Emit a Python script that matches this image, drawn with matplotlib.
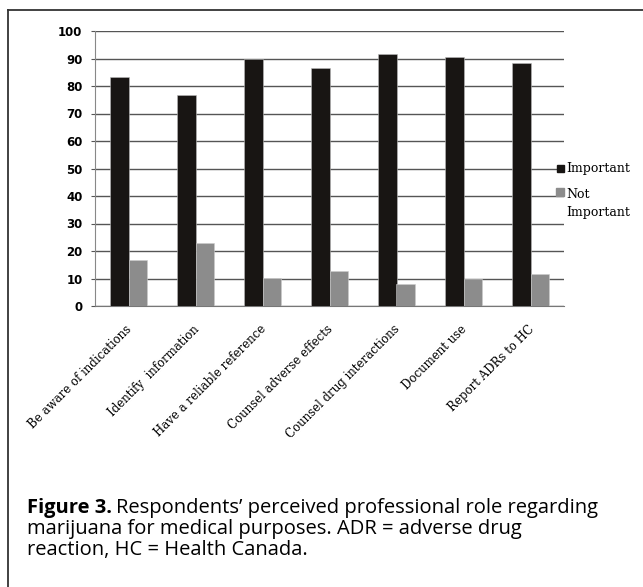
import matplotlib
matplotlib.use('Agg')
import matplotlib.pyplot as plt
import matplotlib.transforms as mtransforms
import numpy as np
from matplotlib.lines import Line2D
from matplotlib.patches import Rectangle

# data
roles = ['Be aware of indications', 'Identify  information', 'Have a reliable reference',
         'Counsel adverse effects', 'Counsel drug interactions', 'Document use',
         'Report ADRs to HC']
important = [83.4, 76.9, 89.9, 86.7, 91.6, 90.4, 88.4]
not_important = [16.7, 23.0, 10.1, 12.8, 7.9, 9.7, 11.5]
yticks = [0, 10, 20, 30, 40, 50, 60, 70, 80, 90, 100]

serif = 'DejaVu Serif'

W, H = 643, 587
fig = plt.figure(figsize=(W / 100, H / 100), dpi=100)
ax = fig.add_axes([95 / W, 1 - 306 / H, (564 - 95) / W, (306 - 31) / H])

x = np.arange(len(roles))
bw = 0.28
ax.bar(x - bw / 2, important, width=bw, color='#181513', edgecolor='#bbbbbb', linewidth=0.4, zorder=3)
ax.bar(x + bw / 2, not_important, width=bw, color='#8c8c8c', edgecolor='#cccccc', linewidth=0.4, zorder=3)

ax.set_xlim(-0.5, len(roles) - 0.5)
ax.set_ylim(0, 100)
ax.set_yticks(yticks)
ax.set_yticklabels([str(v) for v in yticks], fontweight='bold', family='DejaVu Sans', fontsize=8.5)
ax.yaxis.grid(True, color='#555555', linewidth=1.0, zorder=0)
ax.tick_params(axis='y', length=3, color='#555555', pad=6)
ax.tick_params(axis='x', length=0, pad=12)
ax.set_xticks(x)
ax.set_xticklabels(roles, rotation=45, ha='right', rotation_mode='anchor',
                   fontsize=8.5, family=serif)
shift = mtransforms.ScaledTranslation(-3 / 100, 0, fig.dpi_scale_trans)
for lab in ax.get_xticklabels():
    lab.set_transform(lab.get_transform() + shift)
for s in ['top', 'right']:
    ax.spines[s].set_visible(False)
ax.spines['left'].set_color('#888888')
ax.spines['bottom'].set_color('#777777')

# legend drawn by hand to keep the reference layout
fig.patches.append(Rectangle((557 / W, 1 - 172 / H), 7 / W, 7 / H, color='#181513', transform=fig.transFigure))
fig.text(566 / W, 1 - 172 / H, 'Important', fontsize=9, family=serif, va='baseline')
fig.patches.append(Rectangle((556 / W, 1 - 196 / H), 8 / W, 8 / H, color='#8c8c8c', transform=fig.transFigure))
fig.text(566 / W, 1 - 198 / H, 'Not', fontsize=9, family=serif, va='baseline')
fig.text(566 / W, 1 - 216 / H, 'Important', fontsize=9, family=serif, va='baseline')

# frame around figure
fig.lines.append(Line2D([8 / W, 1], [1 - 10 / H, 1 - 10 / H], color='#333333', linewidth=1.3, transform=fig.transFigure))
fig.lines.append(Line2D([8 / W, 8 / W], [0, 1 - 10 / H], color='#333333', linewidth=1.3, transform=fig.transFigure))

# caption
cap_font = 'Open Sans'
cs = 14.5
t = fig.text(27 / W, 1 - 513 / H, 'Figure 3.', fontsize=cs, fontweight='bold', family=cap_font, va='baseline')
r = fig.canvas.get_renderer()
bb = t.get_window_extent(r)
fig.text(bb.x1 / W + 4 / W, 1 - 513 / H, 'Respondents\u2019 perceived professional role regarding',
         fontsize=cs, family=cap_font, va='baseline')
fig.text(27 / W, 1 - 534 / H, 'marijuana for medical purposes. ADR = adverse drug',
         fontsize=cs, family=cap_font, va='baseline')
fig.text(27 / W, 1 - 555 / H, 'reaction, HC = Health Canada.',
         fontsize=cs, family=cap_font, va='baseline')

fig.savefig('out.png', dpi=100)
